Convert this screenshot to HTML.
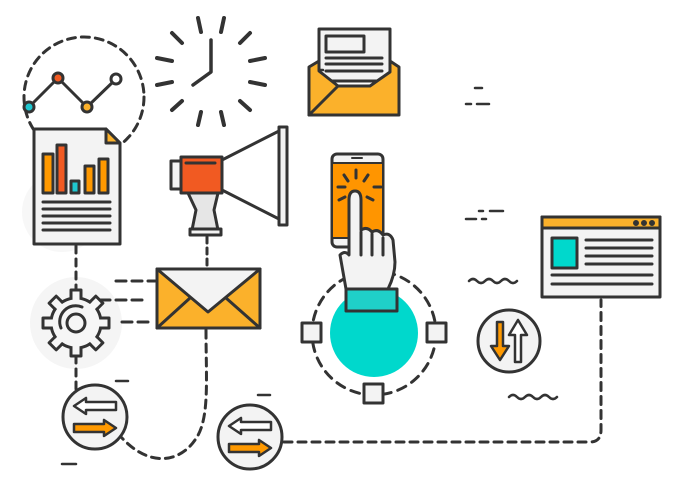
<!DOCTYPE html>
<html><head><meta charset="utf-8"><style>html,body{margin:0;padding:0;background:#fff}svg{display:block}</style></head>
<body>
<svg width="682" height="486" viewBox="0 0 682 486" xmlns="http://www.w3.org/2000/svg" stroke-linejoin="round">
<g fill="none" stroke="#333" stroke-width="3" stroke-linecap="round">
<circle cx="62" cy="212" r="40" fill="#f7f7f7" stroke="none"/>
<circle cx="76" cy="323" r="46" fill="#f5f5f5" stroke="none"/>

<circle cx="84" cy="97" r="60" stroke-dasharray="8 6"/>
<polyline points="29,107 58,78 87,107 116,79"/>
<circle cx="29" cy="107" r="5" fill="#1fc6cf"/>
<circle cx="58" cy="78" r="5" fill="#f15a22"/>
<circle cx="87" cy="107" r="5" fill="#fbb12b"/>
<circle cx="116" cy="79" r="5" fill="#fff"/>

<path d="M34 129 H106 L120 143 V244 H34 Z" fill="#f3f3f3"/>
<path d="M106 129 V143 H120 Z" fill="#fbb12b"/>
<rect x="43" y="154" width="10" height="39" fill="#f90"/>
<rect x="57" y="145" width="9" height="48" fill="#f15a22"/>
<rect x="71" y="181" width="8" height="12" fill="#1fc6cf"/>
<rect x="85" y="166" width="9" height="27" fill="#f90"/>
<rect x="99" y="159" width="9" height="34" fill="#f90"/>
<path d="M43 202H110M43 209H110M43 216H110M43 223H110M43 230H110"/>
<path d="M76 246V290M76 356V408" stroke-dasharray="7 6"/>

<path d="M211 40V72L193 85" stroke-width="3.5"/>
<g stroke-width="4">
<path d="M198 18L201 32M224 18L221 32M172 33L182 43M250 33L240 43M157 58L172 61M265 58L250 61M157 85L172 82M265 85L250 82M172 110L182 101M250 110L240 101M198 125L201 112M224 125L221 112"/>
</g>

<rect x="319" y="29" width="71" height="52" fill="#f3f3f3"/>
<rect x="326" y="36" width="38" height="16"/>
<path d="M326 58H382M326 64H382M326 71H382"/>
<path d="M309 67 L319 61 L319 71 L338 86 H370 L390 72 V61 L399 67 V115 H309 Z" fill="#fbb12b"/>
<path d="M309 115 L338 86"/>

<path d="M188 193 H218 L214 210 L218 230 H192 L196 210 Z" fill="#e6e6e6"/>
<rect x="190" y="229" width="31" height="6" fill="#f3f3f3"/>
<rect x="171" y="161" width="10" height="28" fill="#f3f3f3"/>
<rect x="181" y="157" width="41" height="36" fill="#f15a22"/>
<path d="M186 163H215"/>
<path d="M222 160 L279 131 M222 190 L279 219"/>
<rect x="279" y="127" width="8" height="98" fill="#f3f3f3"/>
<path d="M207 237V268" stroke-dasharray="6 5"/>

<g fill="#f6f6f6">
<g transform="translate(76 323)">
<rect x="-5" y="-33" width="10" height="12"/>
<rect x="-5" y="-33" width="10" height="12" transform="rotate(45)"/>
<rect x="-5" y="-33" width="10" height="12" transform="rotate(90)"/>
<rect x="-5" y="-33" width="10" height="12" transform="rotate(135)"/>
<rect x="-5" y="-33" width="10" height="12" transform="rotate(180)"/>
<rect x="-5" y="-33" width="10" height="12" transform="rotate(225)"/>
<rect x="-5" y="-33" width="10" height="12" transform="rotate(270)"/>
<rect x="-5" y="-33" width="10" height="12" transform="rotate(315)"/>
<circle r="25"/>
<g stroke="none">
<rect x="-3.5" y="-31.5" width="7" height="9"/>
<rect x="-3.5" y="-31.5" width="7" height="9" transform="rotate(45)"/>
<rect x="-3.5" y="-31.5" width="7" height="9" transform="rotate(90)"/>
<rect x="-3.5" y="-31.5" width="7" height="9" transform="rotate(135)"/>
<rect x="-3.5" y="-31.5" width="7" height="9" transform="rotate(180)"/>
<rect x="-3.5" y="-31.5" width="7" height="9" transform="rotate(225)"/>
<rect x="-3.5" y="-31.5" width="7" height="9" transform="rotate(270)"/>
<rect x="-3.5" y="-31.5" width="7" height="9" transform="rotate(315)"/>
</g>
<circle r="9"/>
<path d="M-15 5 A16 16 0 0 1 6 -16" fill="none"/>
</g></g>
<path d="M116 281H155M100 300H148M122 322H148" stroke-dasharray="10 6"/>

<rect x="157" y="269" width="103" height="59" fill="#fbb12b"/>
<path d="M157 269 L208 312 L260 269 Z" fill="#f3f3f3"/>
<path d="M157 328 L190 298 M260 328 L226 298"/>
<path d="M206 330 C206 380 210 420 195 440 C180 462 150 468 122 438" stroke-dasharray="8 6"/>

<circle cx="95" cy="417" r="32" fill="#f3f3f3"/>
<path d="M74 406 L86 398 V402 H116 V410 H86 V414 Z" fill="#fff" stroke-width="2.5"/>
<path d="M116 428 L104 420 V424 H74 V432 H104 V436 Z" fill="#f90" stroke-width="2.5"/>
<circle cx="250" cy="437" r="32" fill="#f3f3f3"/>
<path d="M229 426 L241 418 V422 H271 V430 H241 V434 Z" fill="#fff" stroke-width="2.5"/>
<path d="M271 448 L259 440 V444 H229 V452 H259 V456 Z" fill="#f90" stroke-width="2.5"/>
<path d="M284 442 H590 Q601 442 601 430 V300" stroke-dasharray="8 6"/>

<circle cx="374" cy="333" r="62" stroke-dasharray="9 7"/>
<circle cx="374" cy="333" r="44" fill="#00d8cc" stroke="none"/>
<rect x="302" y="323" width="19" height="19" fill="#f3f3f3"/>
<rect x="427" y="323" width="19" height="19" fill="#f3f3f3"/>
<rect x="364" y="384" width="19" height="19" fill="#f3f3f3"/>

<rect x="332" y="154" width="51" height="93" rx="5" fill="#f3f3f3"/>
<rect x="333" y="163" width="49" height="75" fill="#ff9500" stroke="none"/>
<path d="M333 163H382M333 238H382M352 158H362" stroke-width="2"/>
<g stroke-width="3">
<path d="M356 170V178M344 175L348 181M368 175L364 181M338 187H345M374 187H381M339 200L345 197M373 200L367 197"/>
</g>
<path d="M346 289 L340 255 Q345 250 349 255 V200 Q349 191 355 191 Q361 191 361 200 V230 Q367 226 372 232 Q378 228 383 235 Q390 232 393 240 L395 262 Q395 275 388 289 Z" fill="#f3f3f3"/>
<path d="M361 232V255M372 234V255M383 238V255"/>
<rect x="346" y="289" width="51" height="22" fill="#1fd0c8"/>

<circle cx="509" cy="341" r="31" fill="#f3f3f3"/>
<path d="M497 322 H503 V346 H509 L500 360 L491 346 H497 Z" fill="#f90" stroke-width="2.5"/>
<path d="M515 362 H521 V335 H527 L518 320 L509 335 H515 Z" fill="#fff" stroke-width="2.5"/>

<rect x="542" y="217" width="118" height="80" fill="#f3f3f3"/>
<rect x="542" y="217" width="118" height="11" fill="#fbb12b"/>
<circle cx="636" cy="223" r="1.5" fill="#333"/><circle cx="644" cy="223" r="1.5" fill="#333"/><circle cx="652" cy="223" r="1.5" fill="#333"/>
<rect x="552" y="238" width="25" height="30" fill="#00d8cc"/>
<path d="M586 240H652M586 248H652M586 256H652M586 264H652M552 275H652M552 284H652"/>

<path d="M466 104H471M477 104H489M479 211H483M490 211H503M466 219H476M482 219H486M475 88H482M116 381H128M62 464H76M258 395H270M320 70H323" stroke-width="2.5"/>
<path d="M469 281 q4 -4 8 0 t8 0 t8 0 t8 0 t8 0 t8 0" stroke-width="2.5"/>
<path d="M509 397 q4 -4 8 0 t8 0 t8 0 t8 0 t8 0 t8 0" stroke-width="2.5"/>
</g>
</svg>
</body></html>
